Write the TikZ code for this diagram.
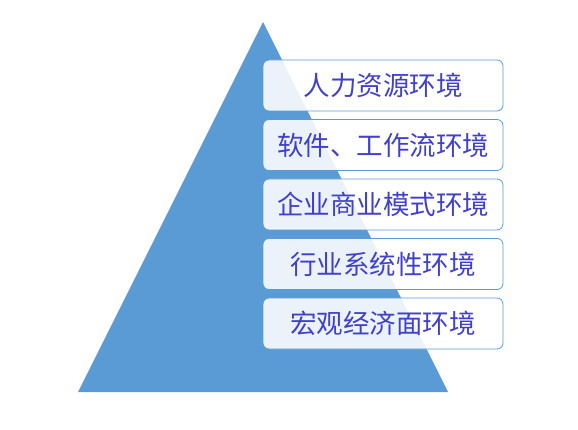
\documentclass[tikz,border=0pt]{standalone}
\usepackage{fontspec}
\usepackage{xcolor}
\usepackage{tikz}
\newfontfamily\cjk{Noto Sans CJK SC}
\definecolor{pyrblue}{RGB}{91,155,213}
\definecolor{pyrtext}{RGB}{64,64,204}
\tikzset{
  layer/.style={
    draw = pyrblue,
    line width = 0.8pt,
    rounded corners = 6pt,
    fill = white,
    fill opacity = 0.88,
    text opacity = 1,
    minimum width = 240pt,
    minimum height = 51pt,
    inner sep = 0pt,
    text = pyrtext,
    font = \cjk\fontsize{26.5}{30}\selectfont
  }
}

\begin{document}
\begin{tikzpicture}[x=1pt, y=-1pt]
\useasboundingbox (0,0) rectangle (578,430);
\newcommand\XBox{383}
\newcommand\YBox{85.5}
\coordinate (Apex) at (263,22);
\coordinate (BaseL) at (78,392);
\coordinate (BaseR) at (448,392);
\fill[pyrblue] (Apex) -- (BaseR) -- (BaseL) -- cycle;

\node[layer] (HR)   at (\XBox,\YBox)       {人力资源环境};
\node[layer] (Soft) at (\XBox,\YBox+59.5)  {软件、工作流环境};
\node[layer] (Biz)  at (\XBox,\YBox+119)   {企业商业模式环境};
\node[layer] (Ind)  at (\XBox,\YBox+178.5) {行业系统性环境};
\node[layer] (Macro) at (\XBox,\YBox+238)  {宏观经济面环境};
\end{tikzpicture}
\end{document}
